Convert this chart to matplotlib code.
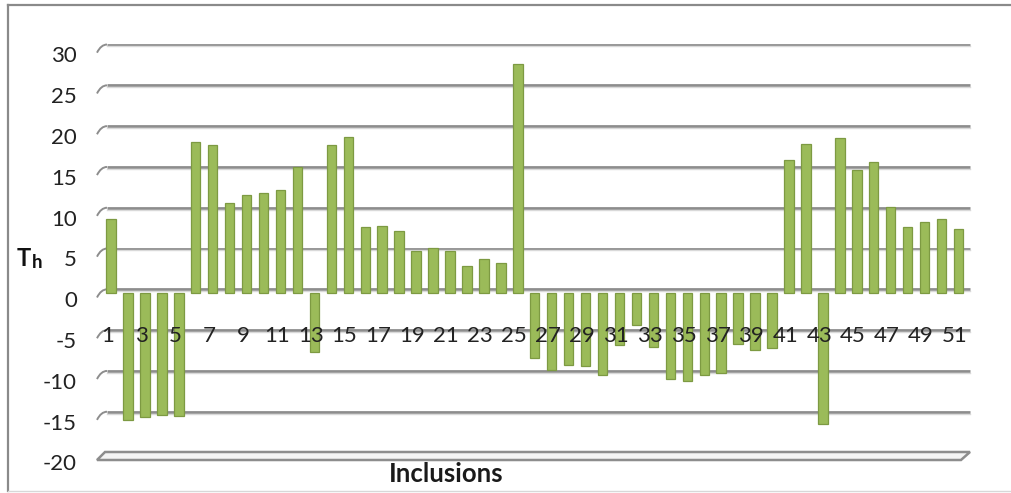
import numpy as np
import matplotlib
matplotlib.use("Agg")
import matplotlib.pyplot as plt
from matplotlib.path import Path
from matplotlib.patches import PathPatch, Polygon
from matplotlib.lines import Line2D

# Th value for each inclusion
inclusions = list(range(1, 52))
th_values = [
    9.1, -15.6, -15.2, -15.0, -15.1, 18.5, 18.1, 11.0, 12.0, 12.3,
    12.6, 15.4, -7.2, 18.1, 19.1, 8.1, 8.2, 7.6, 5.1, 5.5,
    5.1, 3.3, 4.2, 3.7, 28.1, -8.0, -9.4, -8.8, -8.9, -10.0,
    -6.4, -3.9, -6.6, -10.5, -10.8, -10.0, -9.8, -6.2, -7.0, -6.8,
    16.3, 18.2, -16.1, 19.0, 15.1, 16.1, 10.5, 8.1, 8.7, 9.1,
    7.9,
]
y_ticks = [30, 25, 20, 15, 10, 5, 0, -5, -10, -15, -20]
x_tick_labels = [str(i) for i in range(1, 52, 2)]

FONT = "Lato"
W, H = 1012, 493
fig = plt.figure(figsize=(W / 100, H / 100), dpi=100)

# axes placed in pixel terms: category i sits at 111 + (i-1)*16.95 px,
# value v sits at 293 - v*8.16 px
px_l, px_r, px_t, px_b = 90, 990, 30, 480
ax = fig.add_axes([px_l / W, 1 - px_b / H, (px_r - px_l) / W, (px_b - px_t) / H])
dx, dy = 16.95, 8.16
ax.set_xlim(1 + (px_l - 111) / dx, 1 + (px_r - 111) / dx)
ax.set_ylim((293 - px_b) / dy, (293 - px_t) / dy)
for s in ax.spines.values():
    s.set_visible(False)
ax.set_xticks([])
ax.set_yticks([])

def X(px):
    return 1 + (px - 111) / dx

def Y(py):
    return (293 - py) / dy

grid_col = "#8d8d8d"
x0, x1 = X(107), X(970)

# back-wall gridlines with the short bend at the left edge
for v in y_ticks[:-1]:
    yb = v + 0.45
    ax.plot([x0, x1], [yb, yb], color=grid_col, lw=2.0, zorder=1,
            solid_capstyle="butt")
    ax.plot([x0, x1], [yb - 0.22, yb - 0.22], color="#d9d9d9", lw=1.0, zorder=1)
    verts = [(X(97), v - 0.55), (X(101), yb), (x0, yb)]
    ax.add_patch(PathPatch(Path(verts, [Path.MOVETO, Path.CURVE3, Path.CURVE3]),
                           fill=False, ec=grid_col, lw=1.4, zorder=1))

# floor at -20
floor = Polygon([(X(97), Y(460)), (X(105), Y(452)), (X(970), Y(452)), (X(961), Y(460))],
                closed=True, fc="#f4f4f4", ec=grid_col, lw=1.8, zorder=1)
ax.add_patch(floor)

# bars
ax.bar(inclusions, th_values, width=0.56, color="#9bbb59", edgecolor="#7d9a42",
       linewidth=0.9, zorder=3)

# value axis labels (front edge sits slightly below the back wall)
for v in y_ticks:
    ax.text(X(77), v - 1.0, str(v), ha="right", va="center", fontsize=16,
            family=FONT, color="#222222")

# category labels
for lab in x_tick_labels:
    ax.text(int(lab) - 0.22, Y(336), lab, ha="center", va="center",
            fontsize=16, family=FONT, color="#222222", zorder=4)

ax.text(X(446), Y(474), "Inclusions", ha="center", va="center", fontsize=18.5,
        family=FONT, fontweight="bold", color="#1a1a1a")

# axis title T with subscript h
ax.text(X(17), Y(258), "T", ha="left", va="center", fontsize=17,
        family=FONT, fontweight="bold", color="#111111")
ax.text(X(31.5), Y(262), "h", ha="left", va="center", fontsize=13.5,
        family=FONT, fontweight="bold", color="#111111")

# chart frame
fc = "#8a8a8a"
fig.add_artist(Line2D([8 / W, 1.0], [1 - 5 / H, 1 - 5 / H], color=fc, lw=1.6))
fig.add_artist(Line2D([8 / W, 8 / W], [1 - 5 / H, 1 - 491 / H], color=fc, lw=1.6))
fig.add_artist(Line2D([8 / W, 1.0], [1 - 491 / H, 1 - 491 / H], color="#d8d8d8", lw=1.0))

fig.savefig("out.png", dpi=100, facecolor="white")
